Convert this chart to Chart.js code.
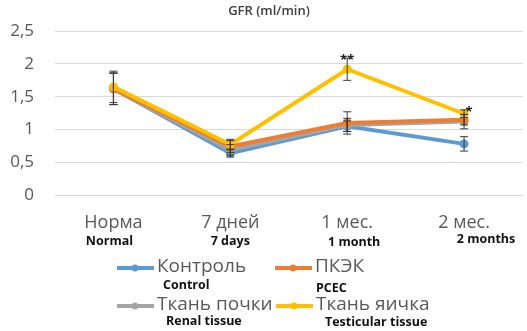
<!DOCTYPE html>
<html>
<head>
<meta charset="utf-8">
<script src="https://cdn.jsdelivr.net/npm/chart.js@4"></script>
<style>
  body { margin: 0; background: #fff; }
  #wrap { width: 527px; height: 331px; }
</style>
</head>
<body>
<div id="wrap"><canvas id="gfrChart" width="527" height="331"></canvas></div>
<script>
// data
const categories = ['Норма', '7 дней', '1 мес.', '2 мес.'];
const categoriesEn = ['Normal', '7 days', '1 month', '2 months'];
const seriesRu = ['Контроль', 'ПКЭК', 'Ткань почки', 'Ткань яичка'];
const seriesEn = ['Control', 'PCEC', 'Renal tissue', 'Testicular tissue'];

const control = [1.62, 0.64, 1.05, 0.78];
const pcec = [1.62, 0.74, 1.10, 1.15];
const renal = [1.62, 0.69, 1.07, 1.12];
const testis = [1.65, 0.77, 1.92, 1.24];

const controlErr = [0.24, 0.06, 0.08, 0.11];
const pcecErr = [0.24, 0.09, 0.17, 0.08];
const renalErr = [0.24, 0.08, 0.10, 0.11];
const testisErr = [0.24, 0.08, 0.17, 0.06];

const testisMarks = ['', '', '**', '*'];
const yTicks = [0, 0.5, 1, 1.5, 2, 2.5];

const colors = ['#5b9bd5', '#ed7d31', '#a5a5a5', '#ffc000'];
const allValues = [control, pcec, renal, testis];
const allErrors = [controlErr, pcecErr, renalErr, testisErr];
const drawOrder = [3, 1, 2, 0];

var ctx = document.getElementById('gfrChart').getContext('2d');

const datasets = allValues.map((vals, i) => ({
    label: seriesRu[i],
    data: vals,
    errors: allErrors[i],
    borderColor: colors[i],
    backgroundColor: colors[i],
    borderWidth: 4,
    pointRadius: 4.5,
    pointBorderWidth: 0,
    tension: 0,
    order: drawOrder[i]
}));
datasets[3].marks = testisMarks;

const errorBars = {
    id: 'errorBars',
    afterDatasetsDraw(chart) {
        const c = chart.ctx;
        const y = chart.scales.y;
        c.save();
        c.strokeStyle = '#3a3a3a';
        c.lineWidth = 1;
        chart.data.datasets.forEach((ds, i) => {
            const meta = chart.getDatasetMeta(i);
            meta.data.forEach((pt, j) => {
                const e = ds.errors[j];
                if (e == null) return;
                const top = y.getPixelForValue(ds.data[j] + e);
                const bot = y.getPixelForValue(ds.data[j] - e);
                c.beginPath();
                c.moveTo(pt.x, top); c.lineTo(pt.x, bot);
                c.moveTo(pt.x - 4, top); c.lineTo(pt.x + 4, top);
                c.moveTo(pt.x - 4, bot); c.lineTo(pt.x + 4, bot);
                c.stroke();
            });
            if (ds.marks) {
                c.fillStyle = '#222';
                c.font = 'bold 13px "Open Sans"';
                c.textAlign = 'center';
                c.textBaseline = 'middle';
                meta.data.forEach((pt, j) => {
                    if (!ds.marks[j]) return;
                    const top = y.getPixelForValue(ds.data[j] + ds.errors[j]);
                    const dx = ds.marks[j].length > 1 ? 0 : 5;
                    c.fillText(ds.marks[j], pt.x + dx, top + 2);
                });
            }
        });
        c.restore();
    }
};

const extraText = {
    id: 'extraText',
    afterDraw(chart) {
        const c = chart.ctx;
        const x = chart.scales.x;
        c.save();
        // title
        c.fillStyle = '#404040';
        c.font = '600 13px "Open Sans"';
        c.textAlign = 'center';
        c.textBaseline = 'middle';
        c.fillText('GFR (ml/min)', 269, 11);
        // english sub labels of the categories
        const shift = [-4, 0, 7, 22];
        c.fillStyle = '#111';
        c.font = 'bold 12.5px "Open Sans"';
        categoriesEn.forEach((t, i) => {
            c.fillText(t, x.getPixelForTick(i) + shift[i], 241 + (i == 2 ? 1 : 0) - (i == 3 ? 2 : 0));
        });
        // legend
        const spots = [[117, 268], [275, 268], [117, 306], [276, 306]];
        const subPos = [[163, 285], [316, 288], [166, 321], [325, 322]];
        seriesRu.forEach((t, i) => {
            const [lx, ly] = spots[i];
            c.strokeStyle = colors[i];
            c.lineWidth = 4;
            c.beginPath(); c.moveTo(lx, ly); c.lineTo(lx + 37, ly); c.stroke();
            c.fillStyle = colors[i];
            c.beginPath(); c.arc(lx + 18, ly, 3.5, 0, Math.PI * 2); c.fill();
            c.fillStyle = '#595959';
            c.font = '19px "Open Sans"';
            c.textAlign = 'left';
            c.fillText(t, lx + 40, ly - 1);
            c.fillStyle = '#111';
            c.font = 'bold 12.5px "Open Sans"';
            c.fillText(seriesEn[i], subPos[i][0], subPos[i][1]);
        });
        c.restore();
    }
};

var gfrChart = new Chart(ctx, {
    type: 'line',
    data: { labels: categories, datasets: datasets },
    options: {
        responsive: false,
        animation: false,
        layout: { padding: { top: 27, bottom: 86, left: 0, right: 0 } },
        plugins: {
            legend: { display: false },
            tooltip: { enabled: false }
        },
        scales: {
            x: {
                offset: true,
                grid: { display: false },
                border: { display: false },
                ticks: {
                    color: '#595959',
                    font: { family: 'Open Sans', size: 18 },
                    padding: 9,
                    maxRotation: 0
                },
                afterFit: function (s) { s.height = 50; }
            },
            y: {
                min: 0,
                max: 2.5,
                afterBuildTicks: function (s) { s.ticks = yTicks.map(v => ({ value: v })); },
                grid: { color: '#d9d9d9', drawTicks: false },
                border: { display: false },
                ticks: {
                    color: '#595959',
                    font: { family: 'Open Sans', size: 17 },
                    padding: 21,
                    callback: v => String(v).replace('.', ',')
                },
                afterFit: function (s) { s.width = 55; }
            }
        }
    },
    plugins: [errorBars, extraText]
});
</script>
</body>
</html>
